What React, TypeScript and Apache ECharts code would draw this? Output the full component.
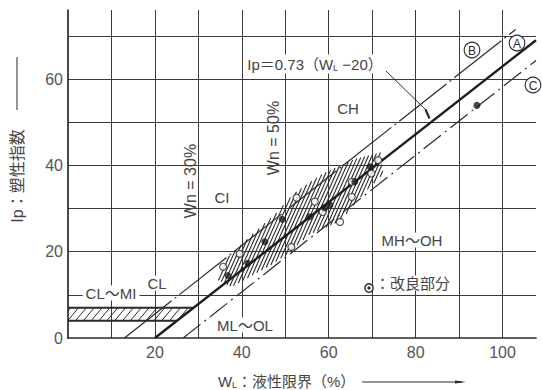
import { useEffect, useRef } from "react";
import * as echarts from "echarts";

// ---- axes ----
const xMax = 107.7;
const yMax = 76;
const tickStep = 10;

// ---- boundary lines (WL, Ip) ----
const lineA_WL = [20, 107.7];
const lineA_Ip = [0, 69];
const lineB_WL = [13, 103];
const lineB_Ip = [0, 71.5];
const lineC_WL = [26.5, 107.7];
const lineC_Ip = [0, 64.3];

// ---- CL-ML hatched band ----
const bandTop_WL = [0, 28.9];
const bandTop_Ip = [7, 7];
const bandBot_WL = [0, 25.1];
const bandBot_Ip = [4, 4];
const bandPoly_WL = [0, 0, 28.9, 25.1];
const bandPoly_Ip = [4, 7, 7, 4];

// ---- hatched zone of the soil samples ----
const zonePoly_WL = [34.5, 36, 43, 48, 52, 58.5, 66, 72, 72.5, 68.5, 62.5, 55.5, 50.5, 46.8, 37.6];
const zonePoly_Ip = [13.4, 18, 24.5, 29, 33.5, 38, 41.5, 43, 38, 34, 27, 24, 19.5, 17, 11.8];

// ---- samples ----
const filled_WL = [36.8, 41.4, 45.3, 49.3, 55.6, 59.0, 60.3, 66.0, 69.5, 94.1];
const filled_Ip = [14.5, 17.3, 22.3, 27.5, 28.1, 30.2, 30.8, 36.2, 39.7, 53.9];
const open_WL = [35.7, 39.5, 51.4, 52.6, 56.8, 58.6, 62.6, 65.3, 65.3, 69.8, 71.4];
const open_Ip = [16.5, 19.5, 21.1, 32.5, 31.6, 29.2, 26.9, 36.2, 32.7, 38.1, 41.2];

const FONT = "'Liberation Sans', 'Noto Sans CJK JP', sans-serif";
const INK = "#2a2a2a";
const TXT = "#444";

const pairs = (xs: number[], ys: number[]) => xs.map((x, i) => [x, ys[i]]);

function hatchLines(pts: number[][], angleDeg: number, spacing: number) {
  const a = (angleDeg * Math.PI) / 180;
  const d = [Math.cos(a), -Math.sin(a)];
  const n = [Math.sin(a), Math.cos(a)];
  const proj = pts.map((p) => p[0] * n[0] + p[1] * n[1]);
  const cmin = Math.min(...proj);
  const cmax = Math.max(...proj);
  const out: number[][][] = [];
  for (let c = Math.ceil(cmin / spacing) * spacing; c <= cmax; c += spacing) {
    const hits: number[][] = [];
    for (let i = 0; i < pts.length; i++) {
      const j = (i + 1) % pts.length;
      const s1 = proj[i] - c;
      const s2 = proj[j] - c;
      if ((s1 < 0 && s2 >= 0) || (s1 >= 0 && s2 < 0)) {
        const t = s1 / (s1 - s2);
        const x = pts[i][0] + t * (pts[j][0] - pts[i][0]);
        const y = pts[i][1] + t * (pts[j][1] - pts[i][1]);
        hits.push([x, y, x * d[0] + y * d[1]]);
      }
    }
    hits.sort((u, v) => u[2] - v[2]);
    for (let k = 0; k + 1 < hits.length; k += 2) out.push([hits[k], hits[k + 1]]);
  }
  return out;
}

function hatchSeries(wl: number[], ip: number[], angle: number, spacing: number, width: number) {
  return {
    type: "custom",
    coordinateSystem: "cartesian2d",
    silent: true,
    z: 3,
    data: [[wl[0], ip[0]]],
    renderItem: (_p: any, api: any) => {
      const pts = wl.map((w, i) => api.coord([w, ip[i]]));
      const segs = hatchLines(pts, angle, spacing);
      return {
        type: "group",
        children: segs.map((s) => ({
          type: "line",
          shape: { x1: s[0][0], y1: s[0][1], x2: s[1][0], y2: s[1][1] },
          style: { stroke: INK, lineWidth: width },
        })),
      };
    },
  };
}

const label = (text: string, x: number, y: number, extra: any = {}) => ({
  type: "text",
  x,
  y,
  z: 100,
  ...extra,
  style: {
    text,
    fontFamily: FONT,
    fontSize: 15,
    fill: TXT,
    align: "center",
    verticalAlign: "middle",
    ...(extra.style || {}),
  },
});

const circled = (ch: string, x: number, y: number) => ({
  type: "group",
  x,
  y,
  z: 100,
  children: [
    { type: "circle", shape: { cx: 0, cy: 0, r: 7.8 }, style: { fill: "#fff", stroke: INK, lineWidth: 1.1 }, z: 100 },
    {
      type: "text",
      z: 101,
      style: { text: ch, x: 0, y: 0.5, fontFamily: FONT, fontSize: 12, fill: INK, align: "center", verticalAlign: "middle" },
    },
  ],
});

export default function App() {
  const ref = useRef<HTMLDivElement>(null);
  useEffect(() => {
    if (!ref.current) return;
    const chart = echarts.init(ref.current, null, { renderer: "svg" });
    const axisCommon = {
      type: "value",
      min: 0,
      interval: tickStep,
      axisTick: { show: false },
      axisLine: { show: true, onZero: false, lineStyle: { color: INK, width: 1.7 } },
      splitLine: { show: true, showMinLine: false, showMaxLine: false, lineStyle: { color: "#3a3a3a", width: 1 } },
    };
    chart.setOption({
      animation: false,
      backgroundColor: "#fff",
      grid: { left: 68, right: 6, top: 10, bottom: 52 },
      xAxis: {
        ...axisCommon,
        max: xMax,
        axisLabel: {
          formatter: (v: number) => (v > 0 && v % 20 === 0 ? String(v) : ""),
          color: "#555",
          fontSize: 16,
          fontFamily: FONT,
          margin: 6,
          showMaxLabel: false,
        },
      },
      yAxis: {
        ...axisCommon,
        max: yMax,
        axisLabel: {
          formatter: (v: number) => (v % 20 === 0 ? String(v) : ""),
          color: "#555",
          fontSize: 16,
          fontFamily: FONT,
          margin: 5,
          showMaxLabel: false,
        },
      },
      series: [
        hatchSeries(bandPoly_WL, bandPoly_Ip, 50, 6, 1),
        hatchSeries(zonePoly_WL, zonePoly_Ip, 66, 3.2, 1.1),
        { type: "line", data: pairs(bandTop_WL, bandTop_Ip), symbol: "none", lineStyle: { color: INK, width: 2 }, z: 4 },
        { type: "line", data: pairs(bandBot_WL, bandBot_Ip), symbol: "none", lineStyle: { color: INK, width: 2 }, z: 4 },
        { type: "line", data: pairs(lineA_WL, lineA_Ip), symbol: "none", lineStyle: { color: "#1e1e1e", width: 2.4 }, z: 5 },
        { type: "line", data: pairs(lineB_WL, lineB_Ip), symbol: "none", lineStyle: { color: INK, width: 1.2, type: [60, 4, 2, 4] }, z: 5 },
        { type: "line", data: pairs(lineC_WL, lineC_Ip), symbol: "none", lineStyle: { color: INK, width: 1.2, type: [22, 5, 2, 5] }, z: 5 },
        {
          type: "scatter",
          data: pairs(open_WL, open_Ip),
          symbol: "circle",
          symbolSize: 7,
          itemStyle: { color: "#fff", borderColor: INK, borderWidth: 1.2 },
          z: 6,
        },
        {
          type: "scatter",
          data: pairs(filled_WL, filled_Ip),
          symbol: "circle",
          symbolSize: 7,
          itemStyle: { color: "#1a1a1a" },
          z: 7,
        },
      ],
      graphic: [
        // Ip = 0.73 (WL - 20)
        label("Ip＝0.73（W{s|L} −20）", 315, 64, {
          style: { backgroundColor: "#fff", padding: [1, 2], rich: { s: { fontSize: 9, padding: [8, 0, 0, 0], fill: TXT, fontFamily: FONT } } },
        }),
        { type: "line", z: 99, shape: { x1: 386, y1: 71, x2: 427, y2: 111 }, style: { stroke: INK, lineWidth: 1 } },
        { type: "line", z: 99, shape: { x1: 425.5, y1: 109.5, x2: 429.5, y2: 118.5 }, style: { stroke: INK, lineWidth: 2.2 } },
        circled("B", 472, 50),
        circled("A", 517, 43),
        circled("C", 533, 85),
        label("CH", 348, 108),
        label("CI", 222, 197),
        label("Wn = 30%", 190, 181, { rotation: Math.PI / 2, style: { fontSize: 16 } }),
        label("Wn = 50%", 273, 138, { rotation: Math.PI / 2, style: { fontSize: 16 } }),
        label("CL～MI", 111, 293, { style: { backgroundColor: "#fff", padding: [0, 3] } }),
        label("CL", 157, 283, { style: { backgroundColor: "#fff", padding: [0, 1] } }),
        label("ML～OL", 245, 325, { style: { backgroundColor: "#fff", padding: [0, 1] } }),
        label("MH～OH", 412, 240, { style: { backgroundColor: "#fff", padding: [0, 1] } }),
        // legend of improved area
        { type: "circle", z: 100, shape: { cx: 369, cy: 288, r: 4.2 }, style: { fill: "#fff", stroke: INK, lineWidth: 1.4 } },
        { type: "circle", z: 101, shape: { cx: 369, cy: 288, r: 1.6 }, style: { fill: INK } },
        label("：改良部分", 374, 283, { style: { align: "left", backgroundColor: "#fff", padding: [0, 1] } }),
        // x axis title
        label("W", 218, 381, { style: { align: "left" } }),
        label("L", 232, 385, { style: { align: "left", fontSize: 9 } }),
        label("：液性限界（%）", 237, 381, { style: { align: "left" } }),
        { type: "line", z: 99, shape: { x1: 362, y1: 382, x2: 462, y2: 382 }, style: { stroke: INK, lineWidth: 1 } },
        { type: "polygon", z: 99, shape: { points: [[466, 382], [455, 380.5], [455, 383.5]] }, style: { fill: INK } },
        // y axis title
        label("Ip：塑性指数", 17, 176, { rotation: Math.PI / 2, style: { fontSize: 16 } }),
        { type: "line", z: 99, shape: { x1: 17, y1: 110, x2: 17, y2: 57 }, style: { stroke: INK, lineWidth: 1 } },
      ],
    });
    return () => chart.dispose();
  }, []);
  return <div ref={ref} style={{ width: 542, height: 390, position: "absolute", left: 0, top: 0 }} />;
}
